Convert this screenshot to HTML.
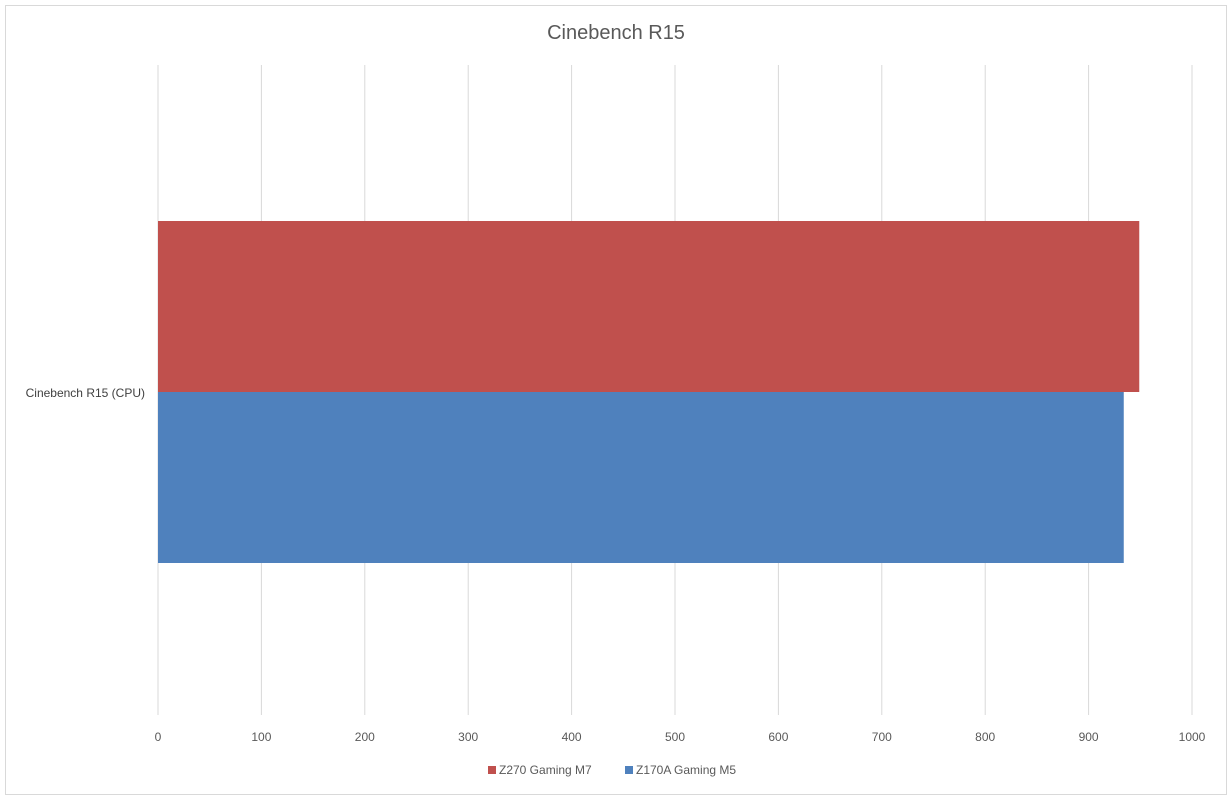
<!DOCTYPE html>
<html><head><meta charset="utf-8"><style>
body{margin:0;background:#fff;font-family:"Liberation Sans",sans-serif}
</style></head><body>
<svg width="1232" height="800">
<rect x="5.5" y="5.5" width="1221" height="789" fill="#fff" stroke="#d9d9d9"/>
<text x="616" y="39" text-anchor="middle" font-size="20" fill="#595959">Cinebench R15</text>
<g id="grid"></g><g id="bars"></g><g id="ticks"></g>
<text x="145" y="397" text-anchor="end" font-size="12" fill="#404040">Cinebench R15 (CPU)</text>
<g>
<rect x="488" y="766" width="8" height="8" fill="#c0504d"/>
<text x="499" y="774" font-size="12" fill="#595959">Z270 Gaming M7</text>
<rect x="625" y="766" width="8" height="8" fill="#4f81bd"/>
<text x="636" y="774" font-size="12" fill="#595959">Z170A Gaming M5</text>
</g>
</svg>
<script>
const ticks=[0,100,200,300,400,500,600,700,800,900,1000];
const seriesNames=["Z270 Gaming M7","Z170A Gaming M5"];
const seriesValues=[949,934];
const colors=["#c0504d","#4f81bd"];
const x=v=>158+v*1.034;
const ns="http://www.w3.org/2000/svg";
const g=document.getElementById('grid'),t=document.getElementById('ticks'),b=document.getElementById('bars');
ticks.forEach(v=>{
 const l=document.createElementNS(ns,'line');
 l.setAttribute('x1',x(v));l.setAttribute('x2',x(v));l.setAttribute('y1',65);l.setAttribute('y2',715);
 l.setAttribute('stroke','#d9d9d9');
 
 
 g.appendChild(l);
 const s=document.createElementNS(ns,'text');
 s.setAttribute('x',x(v));s.setAttribute('y',741);s.setAttribute('text-anchor','middle');
 s.setAttribute('font-size','12');s.setAttribute('fill','#595959');s.textContent=v;
 
 
 t.appendChild(s);
});
const top0=221,bh=171;
seriesValues.forEach((v,i)=>{
 const r=document.createElementNS(ns,'rect');
 r.setAttribute('x',x(0));r.setAttribute('y',top0+i*bh);r.setAttribute('width',x(v)-x(0));r.setAttribute('height',bh);
 r.setAttribute('fill',colors[i]);
 
 
 b.appendChild(r);
});
</script>
</body></html>
